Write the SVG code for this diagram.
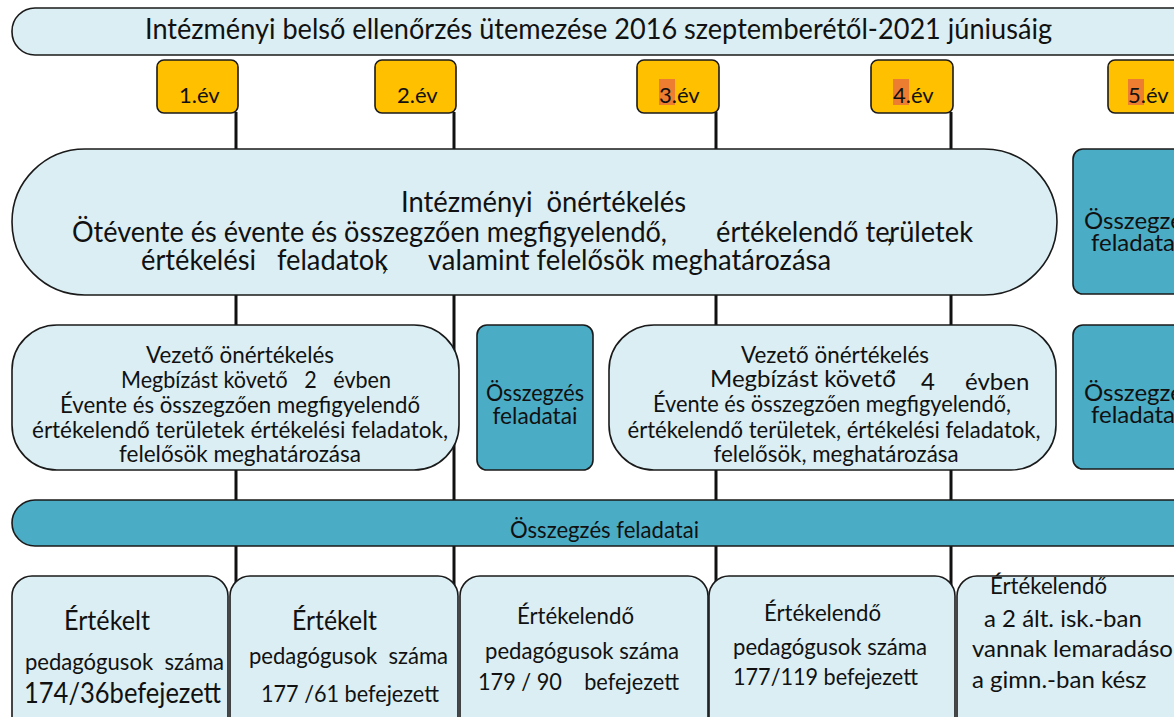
<svg xmlns="http://www.w3.org/2000/svg" width="1174" height="717" viewBox="0 0 1174 717">
<style>
text{font-family:Lato,"Open Sans","Liberation Sans",sans-serif;fill:#111;white-space:pre;}
.lb{fill:#DAEEF3;stroke:#1a1a1a;stroke-width:1.6;}
.tl{fill:#4BACC6;stroke:#1a1a1a;stroke-width:1.6;}
.yr{fill:#FFC000;stroke:#1a1a1a;stroke-width:1.6;}
.hl{fill:#ED7D31;}
.ln{stroke:#111;stroke-width:3;fill:none;}
.f29{font-size:29px;}
.f24{font-size:24px;}
.f22{font-size:22px;}
.f27{font-size:27px;}
.f28{font-size:28px;}
.m{text-anchor:middle;}
</style>
<rect width="1174" height="717" fill="#ffffff"/>
<g id="connectors">
<line class="ln" x1="236" y1="112" x2="236" y2="717"/>
<line class="ln" x1="454" y1="112" x2="454" y2="717"/>
<line class="ln" x1="716" y1="112" x2="716" y2="717"/>
<line class="ln" x1="951" y1="112" x2="951" y2="717"/>
</g>
<g id="title">
<rect class="lb" x="12" y="8" width="1200" height="47" rx="23"/>
<text class="f29" x="145" y="39" textLength="907" lengthAdjust="spacingAndGlyphs">Intézményi belső ellenőrzés ütemezése 2016 szeptemberétől-2021 júniusáig</text>
</g>
<g id="year1">
<rect class="yr" x="157" y="60" width="81" height="53" rx="7"/>
<text class="f22" x="179" y="103">1.év</text>
</g>
<g id="year2">
<rect class="yr" x="375" y="60" width="81" height="53" rx="7"/>
<text class="f22" x="397" y="103">2.év</text>
</g>
<g id="year3">
<rect class="yr" x="637" y="60" width="82" height="53" rx="7"/>
<rect class="hl" x="659" y="79" width="16" height="26"/>
<text class="f22" x="659" y="103">3.év</text>
</g>
<g id="year4">
<rect class="yr" x="871" y="60" width="82" height="53" rx="7"/>
<rect class="hl" x="893" y="79" width="16" height="26"/>
<text class="f22" x="893" y="103">4.év</text>
</g>
<g id="year5">
<rect class="yr" x="1108" y="60" width="82" height="53" rx="7"/>
<rect class="hl" x="1128" y="79" width="16" height="26"/>
<text class="f22" x="1128" y="103">5.év</text>
</g>
<g id="intezmenyi">
<rect class="lb" x="12" y="149" width="1045" height="146" rx="73"/>
<text class="f29" x="401" y="212" textLength="285" lengthAdjust="spacingAndGlyphs">Intézményi  önértékelés</text>
<text class="f29" x="72" y="242" textLength="595" lengthAdjust="spacingAndGlyphs">Ötévente és évente és összegzően megfigyelendő,</text>
<text class="f29" x="716" y="242" textLength="257" lengthAdjust="spacingAndGlyphs">értékelendő te<tspan dx="-3">,</tspan><tspan dx="-4">rületek</tspan></text>
<text class="f29" x="141" y="270" textLength="247" lengthAdjust="spacingAndGlyphs">értékelési   feladatok<tspan dx="-7">,</tspan></text>
<text class="f29" x="428" y="270" textLength="403" lengthAdjust="spacingAndGlyphs">valamint felelősök meghatározása</text>
</g>
<g id="osszegzes-r1">
<rect class="tl" x="1073" y="149" width="120" height="145" rx="10"/>
<text class="f24" x="1084" y="229">Összegzés</text>
<text class="f24" x="1091" y="251">feladatai</text>
</g>
<g id="vezeto1">
<rect class="lb" x="12" y="325" width="447" height="145" rx="45"/>
<text class="f24 m" x="240" y="363" textLength="188" lengthAdjust="spacingAndGlyphs">Vezető önértékelés</text>
<text class="f24" x="121" y="388" textLength="270" lengthAdjust="spacingAndGlyphs">Megbízást követő   2   évben</text>
<text class="f24 m" x="240" y="413" textLength="360" lengthAdjust="spacingAndGlyphs">Évente és összegzően megfigyelendő</text>
<text class="f24 m" x="240" y="438" textLength="416" lengthAdjust="spacingAndGlyphs">értékelendő területek értékelési feladatok,</text>
<text class="f24 m" x="240" y="462" textLength="242" lengthAdjust="spacingAndGlyphs">felelősök meghatározása</text>
</g>
<g id="osszegzes-mid">
<rect class="tl" x="477" y="325" width="116" height="145" rx="10"/>
<text class="f24 m" x="535" y="401" textLength="98" lengthAdjust="spacingAndGlyphs">Összegzés</text>
<text class="f24 m" x="535" y="424" textLength="85" lengthAdjust="spacingAndGlyphs">feladatai</text>
</g>
<g id="vezeto2">
<rect class="lb" x="609" y="325" width="447" height="145" rx="45"/>
<text class="f24 m" x="835" y="363" textLength="188" lengthAdjust="spacingAndGlyphs">Vezető önértékelés</text>
<text class="f24" x="710" y="387">Megbízást követő<tspan x="890" y="379">·</tspan><tspan x="921" y="390">4</tspan><tspan x="965" y="390">évben</tspan></text>
<text class="f24 m" x="832" y="412" textLength="358" lengthAdjust="spacingAndGlyphs">Évente és összegzően megfigyelendő,</text>
<text class="f24 m" x="834" y="438" textLength="413" lengthAdjust="spacingAndGlyphs">értékelendő területek, értékelési feladatok,</text>
<text class="f24 m" x="836" y="462" textLength="245" lengthAdjust="spacingAndGlyphs">felelősök, meghatározása</text>
</g>
<g id="osszegzes-r2">
<rect class="tl" x="1073" y="325" width="120" height="144" rx="10"/>
<text class="f24" x="1084" y="401">Összegzés</text>
<text class="f24" x="1091" y="423">feladatai</text>
</g>
<g id="osszegzes-bar">
<rect class="tl" x="12" y="500" width="1200" height="46" rx="23"/>
<text class="f24" x="510" y="538" textLength="189" lengthAdjust="spacingAndGlyphs">Összegzés feladatai</text>
</g>
<g id="box1">
<rect class="lb" x="12" y="576" width="216" height="170" rx="20"/>
<text class="f27" x="64" y="630" textLength="86" lengthAdjust="spacingAndGlyphs">Értékelt</text>
<text class="f24" x="25" y="670" textLength="199" lengthAdjust="spacingAndGlyphs">pedagógusok  száma</text>
<text class="f28" x="24" y="703" textLength="197" lengthAdjust="spacingAndGlyphs">174/36befejezett</text>
</g>
<g id="box2">
<rect class="lb" x="230" y="576" width="228" height="170" rx="20"/>
<text class="f27" x="292" y="630" textLength="85" lengthAdjust="spacingAndGlyphs">Értékelt</text>
<text class="f24" x="249" y="664" textLength="199" lengthAdjust="spacingAndGlyphs">pedagógusok  száma</text>
<text class="f24" x="261" y="702" textLength="178" lengthAdjust="spacingAndGlyphs">177 /61 befejezett</text>
</g>
<g id="box3">
<rect class="lb" x="460" y="576" width="248" height="170" rx="20"/>
<text class="f24" x="517" y="624" textLength="117" lengthAdjust="spacingAndGlyphs">Értékelendő</text>
<text class="f24" x="485" y="659" textLength="194" lengthAdjust="spacingAndGlyphs">pedagógusok száma</text>
<text class="f24" x="478" y="690" textLength="201" lengthAdjust="spacingAndGlyphs">179 / 90    befejezett</text>
</g>
<g id="box4">
<rect class="lb" x="709" y="576" width="246" height="170" rx="20"/>
<text class="f24" x="764" y="621" textLength="117" lengthAdjust="spacingAndGlyphs">Értékelendő</text>
<text class="f24" x="733" y="655" textLength="194" lengthAdjust="spacingAndGlyphs">pedagógusok száma</text>
<text class="f24" x="733" y="685" textLength="185" lengthAdjust="spacingAndGlyphs">177/119 befejezett</text>
</g>
<g id="box5">
<rect class="lb" x="957" y="576" width="240" height="170" rx="20"/>
<text class="f24" x="990" y="594" textLength="117" lengthAdjust="spacingAndGlyphs">Értékelendő</text>
<text class="f24" x="984" y="627">a 2 ált. isk.-ban</text>
<text class="f24" x="972" y="657">vannak lemaradások,</text>
<text class="f24" x="972" y="688">a gimn.-ban kész</text>
</g>
</svg>
